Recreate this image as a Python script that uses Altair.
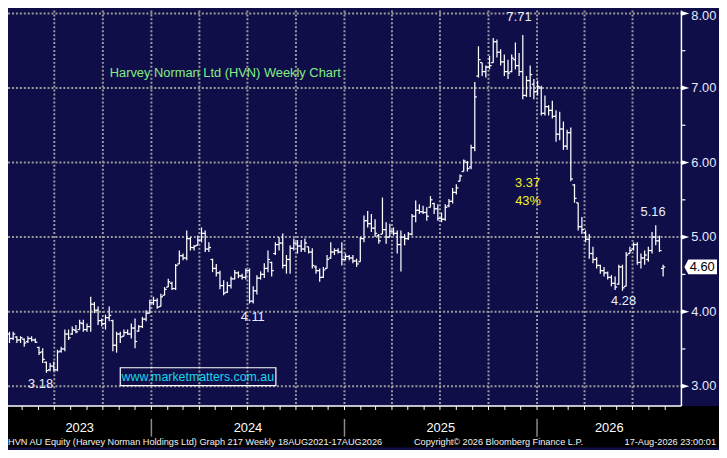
import altair as alt
import pandas as pd

# ---------------- data (weekly OHLC) ----------------
first_week = "2023-04-07"

opens = [3.70, 3.64, 3.66, 3.62, 3.63, 3.60, 3.64, 3.62, 3.52, 3.46,
         3.32, 3.22, 3.27, 3.22, 3.47, 3.50, 3.70, 3.70, 3.75, 3.76,
         3.84, 3.76, 3.80, 4.10, 4.02, 3.88, 3.84, 3.92, 3.88, 3.55,
         3.70, 3.67, 3.72, 3.70, 3.78, 3.74, 3.80, 3.90, 3.98, 4.12,
         4.15, 4.07, 4.22, 4.33, 4.38, 4.31, 4.64, 4.75, 4.72, 4.98,
         4.86, 4.89, 4.96, 5.05, 4.84, 4.70, 4.58, 4.52, 4.35, 4.26,
         4.35, 4.44, 4.52, 4.48, 4.46, 4.55, 4.14, 4.28, 4.45, 4.50,
         4.58, 4.66, 4.78, 4.90, 4.92, 4.62, 4.70, 4.85, 4.92, 4.88,
         4.84, 4.87, 4.80, 4.60, 4.55, 4.46, 4.58, 4.72, 4.80, 4.82,
         4.80, 4.70, 4.74, 4.72, 4.68, 4.67, 4.98, 5.22, 5.18, 5.12,
         5.02, 5.04, 5.10, 5.00, 5.08, 5.05, 4.90, 5.00, 4.98, 5.04,
         5.28, 5.36, 5.34, 5.33, 5.40, 5.45, 5.38, 5.25, 5.24, 5.42,
         5.48, 5.60, 5.75, 5.88, 6.00, 5.94, 6.20, 7.16, 7.34, 7.22,
         7.28, 7.34, 7.62, 7.48, 7.35, 7.22, 7.22, 7.38, 7.30, 7.22,
         6.90, 7.10, 7.05, 6.95, 7.00, 6.66, 6.75, 6.70, 6.62, 6.38,
         6.45, 6.22, 6.40, 5.70, 5.46, 5.14, 5.06, 4.97, 4.78, 4.70,
         4.62, 4.55, 4.52, 4.46, 4.38, 4.37, 4.60, 4.34, 4.78, 4.84,
         4.90, 4.66, 4.72, 4.70, 4.82, 5.00, 4.95, 4.58]

highs = [3.73, 3.73, 3.67, 3.67, 3.64, 3.67, 3.67, 3.64, 3.53, 3.51,
         3.33, 3.31, 3.33, 3.49, 3.53, 3.76, 3.76, 3.80, 3.82, 3.89,
         3.89, 3.84, 4.20, 4.13, 4.07, 3.91, 3.96, 4.07, 3.89, 3.73,
         3.73, 3.76, 3.76, 3.84, 3.91, 3.82, 3.93, 4.02, 4.16, 4.20,
         4.18, 4.24, 4.33, 4.44, 4.40, 4.64, 4.82, 4.78, 5.09, 5.00,
         4.89, 5.02, 5.13, 5.09, 4.93, 4.71, 4.64, 4.55, 4.42, 4.40,
         4.47, 4.56, 4.54, 4.51, 4.58, 4.58, 4.34, 4.49, 4.54, 4.65,
         4.82, 4.67, 4.93, 5.00, 5.05, 4.76, 4.89, 4.98, 4.96, 4.96,
         4.98, 4.87, 4.85, 4.62, 4.58, 4.60, 4.76, 4.93, 4.85, 4.85,
         4.93, 4.78, 4.76, 4.76, 4.71, 5.00, 5.29, 5.35, 5.31, 5.24,
         5.04, 5.53, 5.20, 5.18, 5.13, 5.09, 5.09, 5.04, 5.07, 5.31,
         5.49, 5.44, 5.42, 5.40, 5.55, 5.46, 5.44, 5.33, 5.44, 5.51,
         5.66, 5.71, 5.84, 6.04, 6.02, 6.24, 7.08, 7.56, 7.34, 7.30,
         7.43, 7.67, 7.65, 7.52, 7.45, 7.38, 7.45, 7.61, 7.47, 7.71,
         7.16, 7.30, 7.12, 7.10, 7.03, 6.90, 6.77, 6.83, 6.70, 6.68,
         6.55, 6.44, 6.47, 5.71, 5.46, 5.27, 5.09, 5.04, 4.87, 4.73,
         4.63, 4.60, 4.54, 4.49, 4.47, 4.63, 4.63, 4.80, 4.87, 4.93,
         4.93, 4.78, 4.82, 4.87, 5.07, 5.16, 5.02, 4.63]

lows = [3.58, 3.62, 3.58, 3.58, 3.53, 3.58, 3.60, 3.58, 3.42, 3.31,
        3.18, 3.20, 3.20, 3.20, 3.45, 3.47, 3.62, 3.69, 3.71, 3.76,
        3.73, 3.73, 3.73, 3.98, 3.82, 3.80, 3.76, 3.87, 3.47, 3.45,
        3.58, 3.67, 3.69, 3.64, 3.51, 3.73, 3.78, 3.87, 3.98, 4.09,
        4.04, 4.07, 4.22, 4.33, 4.29, 4.29, 4.64, 4.69, 4.69, 4.82,
        4.82, 4.89, 4.93, 4.80, 4.80, 4.53, 4.47, 4.30, 4.22, 4.25,
        4.31, 4.43, 4.45, 4.43, 4.43, 4.11, 4.11, 4.23, 4.43, 4.45,
        4.53, 4.47, 4.76, 4.82, 4.58, 4.51, 4.51, 4.82, 4.78, 4.80,
        4.80, 4.78, 4.58, 4.51, 4.40, 4.45, 4.58, 4.71, 4.76, 4.78,
        4.62, 4.69, 4.69, 4.65, 4.60, 4.67, 4.93, 5.13, 5.07, 5.00,
        4.91, 5.04, 4.91, 5.00, 5.02, 4.78, 4.54, 4.89, 4.96, 5.02,
        5.20, 5.31, 5.31, 5.22, 5.40, 5.31, 5.22, 5.20, 5.22, 5.40,
        5.45, 5.57, 5.75, 5.88, 5.88, 5.91, 6.15, 7.14, 7.16, 7.14,
        7.25, 7.34, 7.41, 7.30, 7.16, 7.12, 7.21, 7.25, 7.16, 6.85,
        6.88, 6.88, 6.85, 6.90, 6.63, 6.63, 6.63, 6.59, 6.28, 6.30,
        6.17, 6.17, 5.75, 5.46, 5.09, 5.04, 4.93, 4.71, 4.65, 4.58,
        4.51, 4.47, 4.43, 4.34, 4.29, 4.36, 4.28, 4.34, 4.78, 4.82,
        4.63, 4.58, 4.63, 4.67, 4.78, 4.89, 4.80, 4.47]

closes = [3.64, 3.70, 3.62, 3.65, 3.58, 3.64, 3.62, 3.59, 3.45, 3.36,
          3.21, 3.27, 3.22, 3.46, 3.50, 3.70, 3.65, 3.76, 3.73, 3.85,
          3.76, 3.80, 4.10, 4.02, 3.88, 3.84, 3.92, 3.95, 3.55, 3.70,
          3.66, 3.72, 3.70, 3.78, 3.60, 3.80, 3.90, 3.98, 4.12, 4.15,
          4.06, 4.20, 4.30, 4.40, 4.31, 4.62, 4.75, 4.72, 4.98, 4.86,
          4.88, 4.96, 5.05, 4.84, 4.86, 4.58, 4.52, 4.35, 4.25, 4.35,
          4.44, 4.52, 4.48, 4.46, 4.55, 4.14, 4.28, 4.45, 4.50, 4.58,
          4.70, 4.55, 4.90, 4.92, 4.62, 4.70, 4.85, 4.92, 4.88, 4.84,
          4.92, 4.80, 4.62, 4.55, 4.46, 4.56, 4.70, 4.80, 4.82, 4.80,
          4.70, 4.74, 4.72, 4.68, 4.64, 4.98, 5.22, 5.18, 5.12, 5.05,
          4.95, 5.10, 5.00, 5.08, 5.05, 4.90, 5.00, 4.98, 5.04, 5.28,
          5.36, 5.34, 5.33, 5.28, 5.50, 5.38, 5.25, 5.24, 5.40, 5.48,
          5.60, 5.66, 5.82, 6.02, 5.92, 6.20, 6.88, 7.38, 7.22, 7.28,
          7.30, 7.62, 7.48, 7.35, 7.22, 7.20, 7.40, 7.30, 7.22, 6.90,
          7.10, 7.18, 6.95, 7.02, 6.66, 6.75, 6.70, 6.62, 6.38, 6.45,
          6.22, 6.40, 5.78, 5.52, 5.14, 5.10, 4.97, 4.78, 4.70, 4.62,
          4.55, 4.52, 4.46, 4.38, 4.33, 4.60, 4.32, 4.76, 4.82, 4.90,
          4.66, 4.72, 4.76, 4.82, 5.00, 4.95, 4.82, 4.60]

grid_prices = [3.0, 4.0, 5.0, 6.0, 7.0, 8.0]
minor_prices = [3.5, 4.5, 5.5, 6.5, 7.5]
axis_labels = ["3.00", "4.00", "5.00", "6.00", "7.00", "8.00"]
years = [2023, 2024, 2025, 2026]
last_price = 4.60
last_label = "4.60"

ann_text = ["7.71", "3.37", "43%", "5.16", "4.28", "4.11", "3.18"]
ann_date = ["2025-11-28", "2025-12-14", "2025-12-15", "2026-08-09",
            "2026-06-14", "2024-07-11", "2023-06-05"]
ann_price = [7.95, 5.72, 5.49, 5.33, 4.14, 3.93, 3.03]
ann_color = ["#e8eeff", "#f2f21e", "#f2f21e", "#e8eeff",
             "#e8eeff", "#e8eeff", "#e8eeff"]

title_text = "Harvey Norman Ltd (HVN) Weekly Chart"
title_date, title_price = "2024-05-20", 7.20
site_text = "www.marketmatters.com.au"
site_box_dates = ["2023-11-03", "2024-08-24"]
site_box_prices = [3.009, 3.248]
site_center = ("2024-03-29", 3.129)

footer_left = "HVN AU Equity (Harvey Norman Holdings Ltd) Graph 217 Weekly 18AUG2021-17AUG2026"
footer_mid = "Copyright\u00a9 2026 Bloomberg Finance L.P."
footer_right = "17-Aug-2026 23:00:01"

# ---------------- layout / style ----------------
PW, PH = 681, 400
TOTW, TOTH = 719, 442
NAVY = "#0f0e48"
FONT = "Liberation Sans"
GRID = "#9a9a9a"
FMT = "%Y-%m-%dT%H:%M:%S"

x0 = pd.Timestamp("2023-04-04 05:00")
x1 = pd.Timestamp("2026-10-01 16:30")
xs = alt.Scale(domain=[alt.DateTime(year=2023, month=4, date=4, hours=5),
                       alt.DateTime(year=2026, month=10, date=1, hours=16, minutes=30)])
ys = alt.Scale(domain=[2.7347, 8.0398], zero=False, nice=False)

dates = pd.date_range(first_week, periods=len(closes), freq="7D")
tick = pd.Timedelta(days=4)
bars = pd.DataFrame({
    "d": dates.strftime(FMT),
    "dl": (dates - tick).strftime(FMT),
    "dr": (dates + tick).strftime(FMT),
    "open": opens, "high": highs, "low": lows, "close": closes,
})

one = pd.DataFrame({"a": [0]})


def X(f):
    return alt.X(f, type="temporal", scale=xs, axis=None)


def Y(f):
    return alt.Y(f, type="quantitative", scale=ys, axis=None)


band = alt.Chart(one).mark_rect(color="#000000").encode(
    x=alt.value(0), x2=alt.value(TOTW), y=alt.value(PH), y2=alt.value(TOTH))

hgrid = alt.Chart(pd.DataFrame({"p": grid_prices})).mark_rule(
    color=GRID, strokeWidth=2, strokeDash=[2, 2]).encode(
    y=Y("p"), x=alt.value(0), x2=alt.value(PW))

quarters = pd.date_range("2023-07-01", "2026-07-01", freq="QS")
vgrid = alt.Chart(pd.DataFrame({"d": quarters.strftime(FMT)})).mark_rule(
    color=GRID, strokeWidth=2, strokeDash=[2, 2]).encode(
    x=X("d"), y=alt.value(0), y2=alt.value(PH))

BW = 1.25
hl = alt.Chart(bars).mark_rule(color="white", strokeWidth=BW).encode(
    x=X("d"), y=Y("low"), y2="high")
op = alt.Chart(bars).mark_rule(color="white", strokeWidth=BW).encode(
    x=X("dl"), x2="d", y=Y("open"))
cl = alt.Chart(bars).mark_rule(color="white", strokeWidth=BW).encode(
    x=X("d"), x2="dr", y=Y("close"))

axis_r = alt.Chart(one).mark_rule(color="white", strokeWidth=1.5).encode(
    x=alt.value(PW), y=alt.value(0), y2=alt.value(PH))
axis_b = alt.Chart(one).mark_rule(color="white", strokeWidth=1.5).encode(
    x=alt.value(0), x2=alt.value(PW), y=alt.value(PH))

months = pd.date_range("2023-05-01", "2026-09-01", freq="MS")
mticks = alt.Chart(pd.DataFrame({"d": months.strftime(FMT)})).mark_rule(
    color="white", strokeWidth=1).encode(x=X("d"), y=alt.value(PH), y2=alt.value(PH + 4))

ysep = pd.DataFrame({"d": [f"{y}-01-01T00:00:00" for y in years[1:]]})
seps = alt.Chart(ysep).mark_rule(color="#8a8a8a", strokeWidth=1.5).encode(
    x=X("d"), y=alt.value(PH + 13), y2=alt.value(PH + 31))

ymid = []
for y in years:
    s = max(pd.Timestamp(f"{y}-01-01"), x0)
    e = min(pd.Timestamp(f"{y + 1}-01-01"), x1)
    ymid.append((s + (e - s) / 2).strftime(FMT))
ylab = alt.Chart(pd.DataFrame({"d": ymid, "t": [str(y) for y in years]})).mark_text(
    color="white", fontSize=13, font=FONT, baseline="middle", align="center").encode(
    x=X("d"), y=alt.value(PH + 22), text="t:N")

minor = alt.Chart(pd.DataFrame({"p": minor_prices})).mark_rule(
    color="white", strokeWidth=1.2).encode(y=Y("p"), x=alt.value(PW), x2=alt.value(PW + 4))
tri = alt.Chart(pd.DataFrame({"p": grid_prices})).mark_point(
    shape="M -1,-0.6 L 1,0 L -1,0.6 Z", size=64, filled=True, color="white",
    opacity=1).encode(y=Y("p"), x=alt.value(PW + 4))
lab_df = pd.DataFrame({"p": grid_prices, "t": axis_labels})
rlab = alt.Chart(lab_df[lab_df["p"] < 8]).mark_text(
    color="#e4e9ff", fontSize=13, font=FONT, align="left", baseline="middle").encode(
    y=Y("p"), x=alt.value(PW + 10), text="t:N")
rlab_top = alt.Chart(lab_df[lab_df["p"] >= 8]).mark_text(
    color="#e4e9ff", fontSize=13, font=FONT, align="left", baseline="middle", dy=3).encode(
    y=Y("p"), x=alt.value(PW + 10), text="t:N")

tag = alt.Chart(pd.DataFrame({"p": [last_price]})).mark_point(
    shape="M -1,0 L -0.76,-0.45 L 1,-0.45 L 1,0.45 L -0.76,0.45 Z", size=1089,
    filled=True, color="white", opacity=1).encode(y=Y("p"), x=alt.value(PW + 19.5))
tagtxt = alt.Chart(pd.DataFrame({"p": [last_price], "t": [last_label]})).mark_text(
    color="black", fontSize=13, font=FONT, align="center", baseline="middle").encode(
    y=Y("p"), x=alt.value(PW + 21), text="t:N")

ann = alt.Chart(pd.DataFrame({"d": [d + "T00:00:00" for d in ann_date], "p": ann_price,
                              "t": ann_text, "c": ann_color})).mark_text(
    fontSize=13, font=FONT, align="center", baseline="middle").encode(
    x=X("d"), y=Y("p"), text="t:N", color=alt.Color("c:N", scale=None))

title = alt.Chart(pd.DataFrame({"d": [title_date + "T00:00:00"], "p": [title_price],
                                "t": [title_text]})).mark_text(
    fontSize=13, font=FONT, color="#84ec84", align="center", baseline="middle").encode(
    x=X("d"), y=Y("p"), text="t:N")

site_box = alt.Chart(pd.DataFrame({"d1": [site_box_dates[0] + "T00:00:00"],
                                   "d2": [site_box_dates[1] + "T00:00:00"],
                                   "p1": [site_box_prices[0]], "p2": [site_box_prices[1]]})).mark_rect(
    fillOpacity=0, stroke="white", strokeWidth=1.2).encode(
    x=X("d1"), x2="d2", y=Y("p1"), y2="p2")
site = alt.Chart(pd.DataFrame({"d": [site_center[0] + "T00:00:00"], "p": [site_center[1]],
                               "t": [site_text]})).mark_text(
    fontSize=12.5, font=FONT, color="#1ad6ea", align="center", baseline="middle").encode(
    x=X("d"), y=Y("p"), text="t:N")

fl = alt.Chart(pd.DataFrame({"t": [footer_left]})).mark_text(
    fontSize=9.3, font=FONT, color="#f2f2f2", align="left", baseline="middle").encode(
    x=alt.value(0), y=alt.value(PH + 36), text="t:N")
fm = alt.Chart(pd.DataFrame({"t": [footer_mid]})).mark_text(
    fontSize=9.3, font=FONT, color="#f2f2f2", align="center", baseline="middle").encode(
    x=alt.value(496), y=alt.value(PH + 36), text="t:N")
fr = alt.Chart(pd.DataFrame({"t": [footer_right]})).mark_text(
    fontSize=9.3, font=FONT, color="#f2f2f2", align="right", baseline="middle").encode(
    x=alt.value(716), y=alt.value(PH + 36), text="t:N")

chart = alt.layer(
    band, hgrid, vgrid, hl, op, cl, axis_r, axis_b, mticks, seps, ylab,
    minor, tri, rlab, rlab_top, tag, tagtxt, ann, title, site_box, site, fl, fm, fr
).properties(
    width=PW, height=PH,
    autosize=alt.AutoSizeParams(type="none"),
    padding={"left": 0, "top": 0, "right": TOTW - PW, "bottom": TOTH - PH},
    background=NAVY,
).configure_view(stroke=None, fill=NAVY)

chart.save("out.html", embed_options={"renderer": "svg", "actions": False})
